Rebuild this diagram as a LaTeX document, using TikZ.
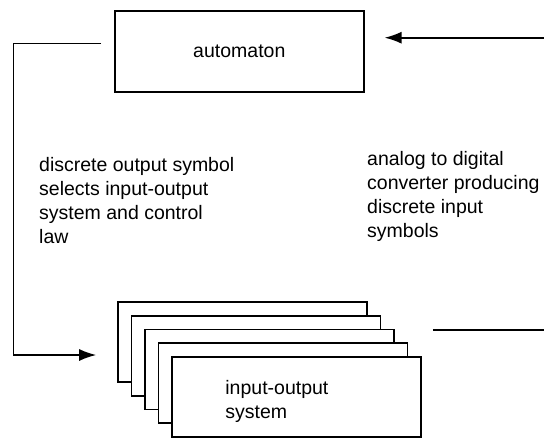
\documentclass[tikz,border=0pt]{standalone}
\usepackage{fontspec}
\setmainfont{Liberation Sans}
\usetikzlibrary{arrows.meta,calc}

\tikzset{
  box/.style={draw,line width=1.6pt,fill=white,minimum width=249pt,minimum height=81pt,inner sep=0pt},
  txt/.style={font=\fontsize{19.5pt}{24pt}\selectfont,align=left,inner sep=0pt},
  conn/.style={line width=1.6pt},
  arr/.style={conn,-{Latex[length=17pt,width=12pt]}}
}

\begin{document}
\begin{tikzpicture}[x=1pt,y=-1pt]
      \useasboundingbox (0,0) rectangle (544,437);
      % top box
      \node[box,minimum height=81.3pt,txt,align=center] (automaton) at (239.3,51.4) {automaton};
      % stack of systems
      \foreach \i in {1,...,5}{
        \node[box,minimum height=80pt] (io\i) at ({242.5+13.5*(\i-1)},{342+13.75*(\i-1)}) {};
      }
      \node[txt,anchor=base west] (iotext) at ([xshift=54pt]io5.west |- 0,418) {input-output\\system};
      % texts (base = last line)
      \node[txt,anchor=base west] (outtext) at (39,243) {discrete output symbol\\selects input-output\\system and control\\law};
      \node[txt,anchor=base west] (intext) at (367,237) {analog to digital\\converter producing\\discrete input\\symbols};
      % connectors
      \coordinate (rail) at (13.3,200);
      \coordinate (inR) at (544,37.7);
      \coordinate (outR) at (544,330);
      \draw[arr,shorten <=13pt,shorten >=21pt] ([yshift=8pt]automaton.west) -| (rail) |- ([yshift=-13pt]io1.west);
      \draw[arr,shorten >=20pt] (inR) -- (automaton.east |- inR);
      \draw[conn] ([xshift=11pt]io5.east |- outR) -- (outR);
\end{tikzpicture}
\end{document}
